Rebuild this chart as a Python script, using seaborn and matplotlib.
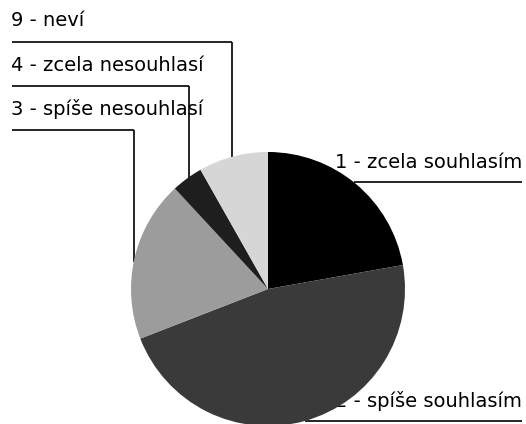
import matplotlib
matplotlib.use("Agg")
import numpy as np
import matplotlib.pyplot as plt
import seaborn as sns

# podíly odpovědí v %, po směru hodinových ručiček od 12 h
categories = ["1 - zcela souhlasím", "2 - spíše souhlasím", "3 - spíše nesouhlasí",
              "4 - zcela nesouhlasí", "9 - neví"]
shares = [22.2, 46.9, 19.0, 3.7, 8.2]
slice_colors = ["#000000", "#3a3a3a", "#9c9c9c", "#1e1e1e", "#d6d6d6"]

# ==========================================
# rozložení v pixelech (y shora dolů)
# ==========================================
W, H = 526, 424
CX, CY, R = 268, 289, 137

sns.set_theme(style="white")
plt.rcParams['font.family'] = ['DejaVu Sans']

fig = plt.figure(figsize=(W / 100, H / 100), dpi=100)
ax = fig.add_axes([0, 0, 1, 1])

ax.pie(shares, colors=slice_colors, startangle=90, counterclock=False,
       center=(CX, H - CY), radius=R, wedgeprops=dict(linewidth=0),
       frame=True)
for w in ax.patches:
    w.set_zorder(3)

FS = 14
line_kw = dict(color="black", lw=1.2, solid_capstyle="butt", zorder=2)

def top_edge(x):
    # horní okraj koláče nad daným x (souřadnice matplotlibu, y nahoru)
    return (H - CY) + np.sqrt(R ** 2 - (x - CX) ** 2)

def right_edge(y):
    return CX + np.sqrt(R ** 2 - ((H - y) - (H - CY)) ** 2)

# levé popisky: text, baseline, y čáry, x svislé čáry
left_labels = [
    (categories[4], 26, 42, 232),
    (categories[3], 71, 86, 189),
    (categories[2], 115, 130, 134),
]
for text, base, ly, vx in left_labels:
    ax.text(11, H - base, text, ha="left", va="baseline", fontsize=FS, color="black")
    ax.plot([12, vx], [H - ly, H - ly], **line_kw)
    ax.plot([vx, vx], [H - ly, top_edge(vx) - 2], **line_kw)

# pravé popisky
right_labels = [
    (categories[0], 168, 182),
    (categories[1], 407, 421),
]
for text, base, ly in right_labels:
    ax.text(522, H - base, text, ha="right", va="baseline", fontsize=FS,
            color="black", zorder=1)
    ax.plot([right_edge(ly), 522], [H - ly, H - ly], **line_kw)

ax.set_xlim(0, W)
ax.set_ylim(0, H)
ax.set_aspect("equal")
ax.axis("off")

fig.savefig("out.png", dpi=100, facecolor="white")
